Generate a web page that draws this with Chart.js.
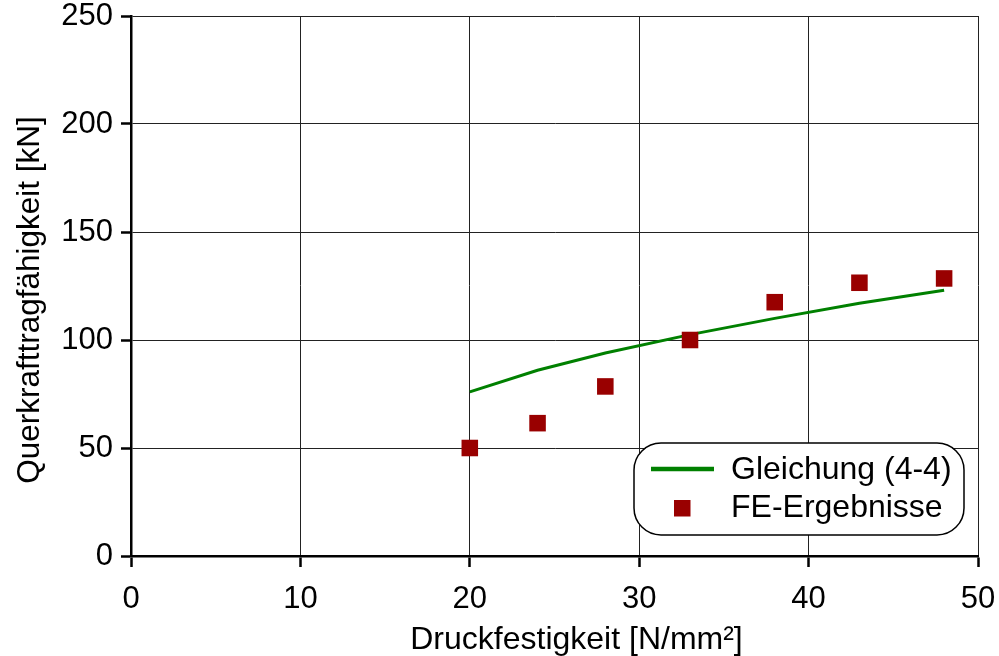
<!DOCTYPE html>
<html>
<head>
<meta charset="utf-8">
<script src="https://cdn.jsdelivr.net/npm/chart.js@4/dist/chart.umd.min.js"></script>
<style>
  html, body { margin: 0; padding: 0; background: #fff; }
  #wrap { width: 999px; height: 656px; }
</style>
</head>
<body>
<div id="wrap"><canvas id="c" width="999" height="656"></canvas></div>
<script>
const xValues = [20, 24, 28, 33, 38, 43, 48];
const gleichung = [76, 86, 94, 102.5, 110, 117, 123];
const feErgebnisse = [50, 61.5, 78.5, 100, 117.5, 126.5, 128.5];
const seriesLabels = ['Gleichung (4-4)', 'FE-Ergebnisse'];
const xTitle = 'Druckfestigkeit [N/mm²]';
const yTitle = 'Querkrafttragfähigkeit [kN]';

const FONT = '"Liberation Sans", Arial, Helvetica, sans-serif';
const GREEN = '#008000';
const RED = '#990000';

const titlePlugin = {
  id: 'axisTitles',
  afterDraw(chart) {
    const ctx = chart.ctx;
    const a = chart.chartArea;
    ctx.save();
    ctx.fillStyle = '#000';
    ctx.textAlign = 'center';
    ctx.textBaseline = 'middle';
    ctx.font = '32px ' + FONT;
    ctx.fillText(xTitle, (a.left + a.right) / 2 + 22, chart.height - 16);
    ctx.translate(30, (a.top + a.bottom) / 2 + 14);
    ctx.rotate(-Math.PI / 2);
    ctx.font = '31.5px ' + FONT;
    ctx.fillText(yTitle, 0, 0);
    ctx.restore();
  }
};

const legendPlugin = {
  id: 'boxLegend',
  afterDatasetsDraw(chart) {
    const ctx = chart.ctx;
    const a = chart.chartArea;
    const left = a.right - 344, top = a.bottom - 113, w = 330, h = 92, r = 27;
    ctx.save();
    ctx.beginPath();
    ctx.roundRect(left, top, w, h, r);
    ctx.fillStyle = '#fff';
    ctx.fill();
    ctx.lineWidth = 1.5;
    ctx.strokeStyle = '#000';
    ctx.stroke();
    // line sample
    ctx.beginPath();
    ctx.moveTo(left + 17, top + 26);
    ctx.lineTo(left + 80, top + 26);
    ctx.lineWidth = 4.5;
    ctx.strokeStyle = GREEN;
    ctx.stroke();
    // square sample
    ctx.fillStyle = RED;
    ctx.fillRect(left + 40, top + 57, 16.5, 16.5);
    // texts
    ctx.fillStyle = '#000';
    ctx.font = '32px ' + FONT;
    ctx.textBaseline = 'middle';
    ctx.textAlign = 'left';
    ctx.fillText(chart.data.datasets[1].label, left + 97, top + 27);
    ctx.fillText(chart.data.datasets[0].label, left + 97, top + 65);
    ctx.restore();
  }
};

new Chart(document.getElementById('c'), {
  type: 'scatter',
  data: {
    datasets: [
      {
        label: seriesLabels[1],
        data: xValues.map((x, i) => ({ x: x, y: feErgebnisse[i] })),
        pointStyle: 'rect',
        pointRadius: 11.7,
        pointBackgroundColor: RED,
        pointBorderWidth: 0,
        showLine: false,
        order: 0
      },
      {
        label: seriesLabels[0],
        data: xValues.map((x, i) => ({ x: x, y: gleichung[i] })),
        showLine: true,
        borderColor: GREEN,
        borderWidth: 3,
        pointRadius: 0,
        fill: false,
        order: 1
      }
    ]
  },
  options: {
    responsive: false,
    animation: false,
    layout: { padding: { top: 16, right: 21, left: 0, bottom: 0 } },
    plugins: { legend: { display: false }, tooltip: { enabled: false } },
    scales: {
      x: {
        type: 'linear',
        min: 0, max: 50,
        ticks: { stepSize: 10, color: '#000', font: { family: FONT, size: 31 }, padding: 14 },
        grid: { color: '#222', lineWidth: 1, tickLength: 11, tickColor: '#000', tickWidth: 2.5 },
        border: { color: '#000', width: 2.5 },
        title: { display: false },
        afterFit: s => { s.height = 100; s.paddingLeft = 0; s.paddingRight = 0; }
      },
      y: {
        type: 'linear',
        min: 0, max: 250,
        ticks: { stepSize: 50, color: '#000', font: { family: FONT, size: 31 }, padding: 8 },
        grid: { color: '#222', lineWidth: 1, tickLength: 10, tickColor: '#000', tickWidth: 2.5 },
        border: { color: '#000', width: 2.5 },
        title: { display: false },
        afterFit: s => { s.width = 131; s.paddingTop = 0; s.paddingBottom = 0; }
      }
    }
  },
  plugins: [legendPlugin, titlePlugin]
});
</script>
</body>
</html>
